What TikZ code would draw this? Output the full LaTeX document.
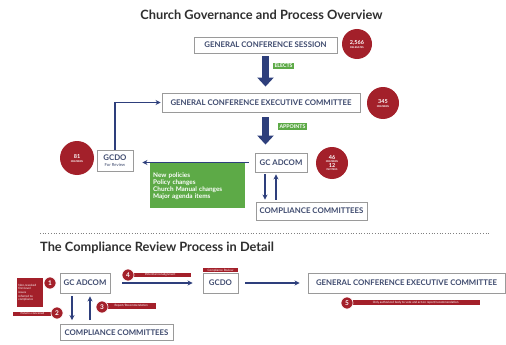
\documentclass[tikz,border=0pt]{standalone}
\usepackage{fontspec}
\setmainfont{Lato}
\usetikzlibrary{arrows.meta,calc,shadows}
\definecolor{navy}{HTML}{2E3F7C}
\definecolor{gcred}{HTML}{A3202A}
\definecolor{gcgreen}{HTML}{5DAA47}
\definecolor{boxtext}{HTML}{3E4A6E}
\definecolor{boxline}{HTML}{9A9A9A}
\definecolor{titlegray}{HTML}{2F2F2F}
\begin{document}
\begin{tikzpicture}[x=1pt,y=-1pt,
  titlefont/.style={font=\fontsize{12.8}{14}\selectfont\bfseries, text=titlegray, inner sep=0pt},
  gcbox/.style={draw=boxline, line width=0.9pt, fill=white, inner sep=0pt,
    font=\fontsize{7.8}{8}\selectfont\bfseries, text=boxtext,
    drop shadow={shadow xshift=0.6pt, shadow yshift=-0.8pt, opacity=0.25}},
  countcircle/.style={circle, fill=gcred, text=white, minimum size=32pt, inner sep=0pt,
    align=center, font=\fontsize{5.5}{5.5}\selectfont\bfseries},
  bigarrow/.style={draw=navy, line width=7pt, -{Triangle[width=16pt,length=9pt]}},
  thinarrow/.style={draw=navy, line width=1.2pt, -{Stealth[length=5pt,width=5pt]}},
  greenlab/.style={fill=gcgreen, text=white, font=\fontsize{5.2}{5.5}\selectfont\bfseries, inner sep=1.3pt},
  redbar/.style={fill=gcred, text=white, font=\fontsize{3}{3.4}\selectfont, inner sep=0.8pt},
  numcirc/.style={circle, fill=gcred, draw=white, line width=0.6pt, text=white,
    font=\fontsize{6.5}{6.5}\selectfont\bfseries, minimum size=12pt, inner sep=0pt}
]
\useasboundingbox[fill=white] (0,0) rectangle (506,345);

% ---------- upper part ----------
\node[titlefont] (t1) at (261.5,15) {Church Governance and Process Overview};

\node[gcbox, minimum width=143pt, minimum height=16pt] (sess) at (265.5,45) {GENERAL CONFERENCE SESSION};
\node[countcircle, minimum size=30pt] (c1) at (357,44) {2,566\\[-1.5pt]{\fontsize{2.5}{3}\selectfont DELEGATES}};

\node[gcbox, minimum width=198pt, minimum height=19pt] (exec) at (261,102.5) {GENERAL CONFERENCE EXECUTIVE COMMITTEE};
\node[countcircle] (c2) at (383,103) {345\\[-1.5pt]{\fontsize{2.5}{3}\selectfont MEMBERS}};

\node[gcbox, minimum width=52pt, minimum height=19pt] (adcom) at (281,162.5) {GC ADCOM};
\node[countcircle] (c3) at (332,163) {46\\[-2pt]{\fontsize{2.5}{3}\selectfont MEMBERS}\\[-1pt]12\\[-2pt]{\fontsize{2.5}{3}\selectfont INVITEES}};

\node[gcbox, minimum width=36pt, minimum height=21pt, align=center] (gcdo) at (115,160.5) {GCDO\\[-2.5pt]{\fontsize{4.2}{4.2}\selectfont\mdseries For Review}};
\node[countcircle, minimum size=34pt] (c4) at (77,158) {81\\[-1.5pt]{\fontsize{2.5}{3}\selectfont MEMBERS}};

\node[gcbox, minimum width=111pt, minimum height=18pt] (comp) at (311.5,211) {COMPLIANCE COMMITTEES};

\node[fill=gcgreen, text=white, anchor=north west, minimum width=95pt, minimum height=45pt,
  text width=89pt, align=left, inner sep=3pt, font=\fontsize{6.4}{7}\selectfont\bfseries] (items) at (150,163)
  {New policies\\Policy changes\\Church Manual changes\\Major agenda items};

\draw[bigarrow, shorten <=3pt, shorten >=6pt] (sess.south) -- (sess.south |- exec.north);
\draw[bigarrow, shorten <=5pt, shorten >=8pt] (sess.south |- exec.south) -- (sess.south |- adcom.north);
\node[greenlab] (el) at (283.5,66) {ELECTS};
\node[greenlab] (ap) at (292.5,126.5) {APPOINTS};

\draw[thinarrow, shorten >=1pt] (gcdo.north) |- (exec.west);
\draw[thinarrow, shorten <=6pt, shorten >=9pt] (adcom.west) -- (adcom.west -| gcdo.east);
\draw[thinarrow, shorten <=2pt, shorten >=2pt] ([xshift=-16pt]adcom.south) -- ([xshift=-16pt]adcom.south |- comp.north);
\draw[thinarrow, shorten <=2pt, shorten >=2pt] ([xshift=-5pt]adcom.south |- comp.north) -- ([xshift=-5pt]adcom.south);

% ---------- separator ----------
\coordinate (sepL) at (40,233);
\coordinate (sepR) at (490,233);
\draw[gray, dotted, line width=0.7pt] (sepL) -- (sepR);

% ---------- lower part ----------
\node[titlefont, anchor=west] (t2) at (40,248) {The Compliance Review Process in Detail};

\node[gcbox, minimum width=50pt, minimum height=20pt] (ladcom) at (85,283) {GC ADCOM};
\node[gcbox, minimum width=113pt, minimum height=16pt] (lcomp) at (116.5,332.5) {COMPLIANCE COMMITTEES};
\node[gcbox, minimum width=35pt, minimum height=20pt] (lgcdo) at (220.5,283) {GCDO};
\node[redbar, anchor=south, minimum width=35pt] (crev) at (lgcdo.north) {Compliance Review};
\node[gcbox, minimum width=197pt, minimum height=20pt] (lexec) at (406.5,283) {GENERAL CONFERENCE EXECUTIVE COMMITTEE};

\draw[thinarrow, shorten <=3pt, shorten >=4pt] ([xshift=-13pt]ladcom.south) -- ([xshift=-13pt]ladcom.south |- lcomp.north);
\draw[thinarrow, shorten <=4pt, shorten >=3pt] ([xshift=5pt]ladcom.south |- lcomp.north) -- ([xshift=5pt]ladcom.south);
\draw[thinarrow, shorten <=12pt, shorten >=10pt] (ladcom.east) -- (lgcdo.west);
\draw[thinarrow, shorten <=7pt, shorten >=8pt] (lgcdo.east) -- (lexec.west);

% red labels
\node[redbar, anchor=north west, text width=23pt, minimum height=29pt, align=left, inner sep=1.2pt,
  font=\fontsize{3}{3.6}\selectfont] (r1) at (17,278) {Non-resolved\\first-level\\issues\\referred to\\compliance};
\node[numcirc] (n1) at (50,283) {1};

\node[redbar, minimum width=40pt, minimum height=4pt, inner sep=0.5pt] (r2) at (32.5,313.5) {Panel is convened};
\node[numcirc] (n2) at (57,313) {2};

\node[redbar, anchor=west, minimum width=50pt, minimum height=6pt] (r3) at (106,306) {Report/Recommendation};
\node[numcirc] (n3) at (102,307) {3};

\node[redbar, anchor=west, minimum width=62pt, minimum height=4.5pt, inner sep=0.5pt] (r4) at (129,275) {Potential nonalignment};
\node[numcirc] (n4) at (128,275) {4};

\node[redbar, anchor=west, minimum width=129pt, minimum height=5pt, inner sep=0.5pt] (r5) at (351,302.5) {Only authorized body to vote and act on report/recommendation};
\node[numcirc] (n5) at (347,303) {5};
\end{tikzpicture}
\end{document}
